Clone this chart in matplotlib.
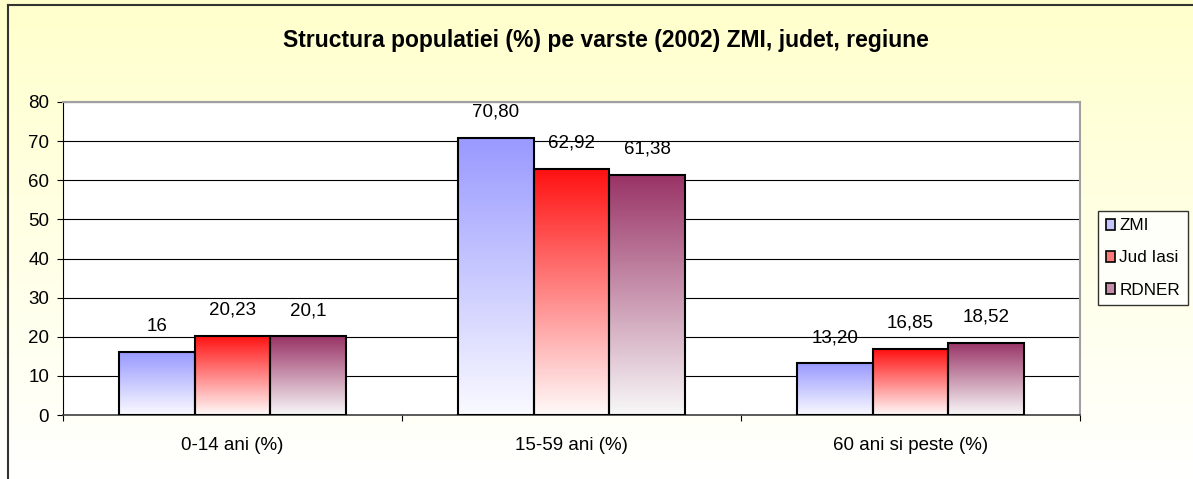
import matplotlib
matplotlib.use("Agg")
import matplotlib.pyplot as plt
import numpy as np
from matplotlib.colors import LinearSegmentedColormap, to_rgb
from matplotlib.patches import Rectangle
from matplotlib.lines import Line2D

plt.rcParams['font.family'] = ['Liberation Sans', 'DejaVu Sans']

# data
categories = ['0-14 ani (%)', '15-59 ani (%)', '60 ani si peste (%)']
series_names = ['ZMI', 'Jud Iasi', 'RDNER']
zmi = [16, 70.80, 13.20]
jud_iasi = [20.23, 62.92, 16.85]
rdner = [20.1, 61.38, 18.52]
zmi_labels = ['16', '70,80', '13,20']
jud_iasi_labels = ['20,23', '62,92', '16,85']
rdner_labels = ['20,1', '61,38', '18,52']
title = 'Structura populatiei (%) pe varste (2002) ZMI, judet, regiune'

series = [zmi, jud_iasi, rdner]
labels = [zmi_labels, jud_iasi_labels, rdner_labels]
colors = ['#9999FF', '#FF1010', '#993366']
bottom_colors = ['#FAFAFF', '#FFFAFA', '#F8F8F8']

fig = plt.figure(figsize=(11.93, 4.79), dpi=100)

# chart area background: yellow -> white gradient
bg = fig.add_axes([0, 0, 1, 1], zorder=-5)
grad = np.linspace(0, 1, 256).reshape(-1, 1)
bg_cmap = LinearSegmentedColormap.from_list('bg', ['#FFFFCC', '#FFFFFF'])
bg.imshow(grad, aspect='auto', cmap=bg_cmap, extent=[0, 1, 0, 1], origin='upper')
bg.set_xlim(0, 1)
bg.set_ylim(0, 1)
bg.axis('off')

# chart border (top and left visible)
fig.add_artist(Line2D([8 / 1193, 1], [1 - 5 / 479, 1 - 5 / 479], color='#333333', lw=1.5))
fig.add_artist(Line2D([8 / 1193, 8 / 1193], [0, 1 - 5 / 479], color='#333333', lw=1.5))

ax = fig.add_axes([63 / 1193, 1 - 415 / 479, (1080 - 63) / 1193, (415 - 102) / 479])
ax.set_facecolor('white')
ax.set_xlim(-0.5, 2.5)
ax.set_ylim(0, 80)

bar_w = 0.223
offsets = [-bar_w, 0, bar_w]
x = np.arange(len(categories))
handles = []
for vals, labs, c, cb, off, name in zip(series, labels, colors, bottom_colors, offsets, series_names):
    cmap = LinearSegmentedColormap.from_list(name, [cb, c])
    for xi, v, lab in zip(x, vals, labs):
        x0 = xi + off - bar_w / 2
        x1 = xi + off + bar_w / 2
        ax.imshow(grad, aspect='auto', cmap=cmap, extent=[x0, x1, 0, v], origin='lower', zorder=3)
        ax.add_patch(Rectangle((x0, 0), bar_w, v, fill=False, edgecolor='black', lw=1.5, zorder=4))
        ax.annotate(lab, (xi + off, v), xytext=(0, 18.5), textcoords='offset points',
                    ha='center', va='center', fontsize=13.5, zorder=5)
    mid = tuple(0.55 * np.array(to_rgb(c)) + 0.45 * np.array(to_rgb(cb)))
    handles.append(Rectangle((0, 0), 1, 1, facecolor=mid, edgecolor='black', lw=1.2, label=name))

ax.set_xlim(-0.5, 2.5)
ax.set_ylim(0, 80)

ax.set_yticks(np.arange(0, 81, 10))
ax.yaxis.grid(True, color='black', lw=0.8)
ax.set_axisbelow(True)
ax.tick_params(axis='y', direction='out', length=4, width=0.8, pad=6, labelsize=13.5)

ax.set_xticks([-0.5, 0.5, 1.5, 2.5])
ax.set_xticklabels([])
ax.set_xticks(x, minor=True)
ax.set_xticklabels(categories, minor=True)
ax.tick_params(axis='x', which='major', direction='out', length=4, width=0.8)
ax.tick_params(axis='x', which='minor', length=0, pad=16, labelsize=13.5)

for s in ['top', 'right']:
    ax.spines[s].set_color('#A0A0A0')
    ax.spines[s].set_linewidth(1.5)
ax.spines['left'].set_color('black')
ax.spines['bottom'].set_color('#404040')
ax.spines['bottom'].set_linewidth(1.2)

fig.text(606 / 1193, 1 - 40 / 479, title, ha='center', va='center', fontsize=16.5, fontweight='bold')

leg = fig.legend(handles=handles, loc='center left', bbox_to_anchor=(1098 / 1193, 1 - 258 / 479),
                 fontsize=12.3, frameon=True, fancybox=False, edgecolor='black',
                 handlelength=0.55, handleheight=0.55, handletextpad=0.25, labelspacing=1.0,
                 borderpad=0.45, borderaxespad=0)
leg.get_frame().set_linewidth(1.0)

fig.savefig('out.png', dpi=100)
